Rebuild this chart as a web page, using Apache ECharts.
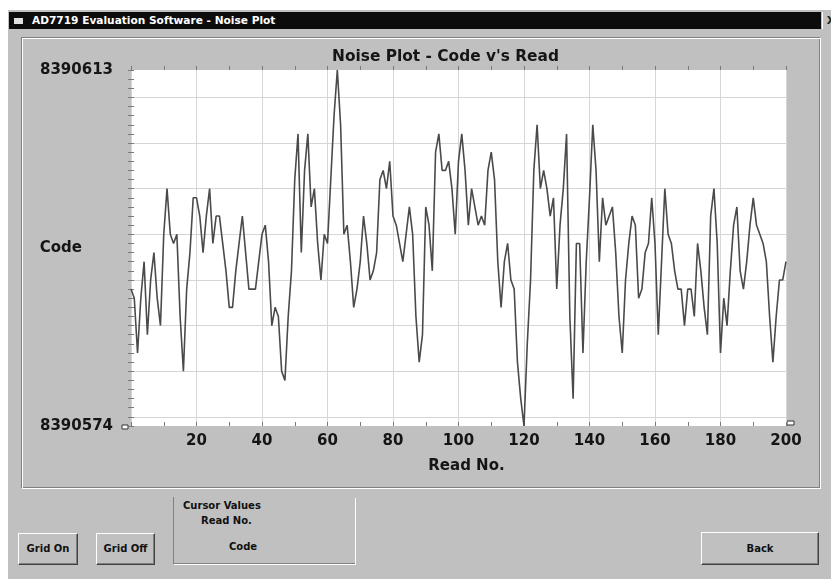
<!DOCTYPE html>
<html><head><meta charset="utf-8">
<script src="https://cdn.jsdelivr.net/npm/echarts@6/dist/echarts.min.js"></script>
<style>
html,body{margin:0;padding:0;width:831px;height:579px;overflow:hidden;background:#fff;font-family:"DejaVu Sans",sans-serif;}
#win{position:absolute;left:8px;top:10px;width:823px;height:569px;background:#c0c0c0;}
#titlebar{position:absolute;left:9px;top:12px;width:812px;height:17px;background:#0c0c0c;color:#fff;font-weight:bold;font-size:10.6px;line-height:17px;white-space:nowrap;}
#titlebar span{position:absolute;left:23px;top:0;}
#icon{position:absolute;left:5px;top:6px;width:9px;height:6px;background:#e0e0e0;}
#close{position:absolute;left:822px;top:12px;width:9px;height:17px;background:#c0c0c0;border-left:1px solid #fff;overflow:hidden;font-weight:bold;font-size:11px;line-height:17px;color:#222;}
#frame{position:absolute;left:21px;top:37px;width:798px;height:450px;border:1px solid;border-color:#808080 #fff #fff #808080;box-shadow:inset 1px 1px 0 #fff, inset -1px -1px 0 #808080;}
.btn{position:absolute;box-sizing:border-box;background:#c0c0c0;border:1px solid;border-color:#fff #404040 #404040 #fff;box-shadow:inset -1px -1px 0 #808080;font-weight:bold;font-size:10px;color:#111;text-align:center;}
#group{position:absolute;left:173px;top:497px;width:181px;height:66px;border-left:1px solid #808080;border-bottom:1px solid #808080;box-shadow:1px 1px 0 #fff;}
.lbl{position:absolute;font-weight:bold;font-size:10px;color:#111;white-space:nowrap;}
#chart{position:absolute;left:0;top:0;width:831px;height:579px;z-index:2;}
</style></head>
<body>
<div id="win"></div>
<div id="titlebar"><div id="icon"></div><span>AD7719 Evaluation Software - Noise Plot</span></div>
<div id="close">&nbsp;X</div>
<div id="frame"></div>
<div class="btn" style="left:18px;top:533px;width:60px;height:32px;line-height:30px;">Grid On</div>
<div class="btn" style="left:96px;top:533px;width:59px;height:32px;line-height:30px;">Grid Off</div>
<div class="btn" style="left:701px;top:532px;width:118px;height:33px;line-height:31px;">Back</div>
<div id="group"></div>
<div class="lbl" style="left:183px;top:500px;">Cursor Values</div>
<div class="lbl" style="left:201px;top:515px;">Read No.</div>
<div class="lbl" style="left:229px;top:541px;">Code</div>
<div id="chart"></div>
<script>
// ---- data ----
const chartTitle = "Noise Plot - Code v's Read";
const xAxisName = "Read No.";
const yAxisName = "Code";
const readNos = Array.from({length: 201}, (_, i) => i);
const codes = [
8390589,8390588,8390582,8390588,8390592,8390584,8390590,8390593,8390588,8390585,
8390595,8390600,8390595,8390594,8390595,8390586,8390580,8390589,8390593,8390599,
8390599,8390597,8390593,8390597,8390600,8390594,8390597,8390597,8390594,8390591,
8390587,8390587,8390591,8390594,8390597,8390593,8390589,8390589,8390589,8390592,
8390595,8390596,8390592,8390585,8390587,8390586,8390580,8390579,8390586,8390591,
8390601,8390606,8390593,8390602,8390606,8390598,8390600,8390594,8390590,8390595,
8390594,8390601,8390608,8390613,8390607,8390595,8390596,8390592,8390587,8390589,
8390592,8390597,8390594,8390590,8390591,8390593,8390601,8390602,8390600,8390603,
8390597,8390596,8390594,8390592,8390595,8390598,8390595,8390586,8390581,8390584,
8390598,8390596,8390591,8390604,8390606,8390602,8390602,8390603,8390600,8390595,
8390603,8390606,8390602,8390596,8390600,8390598,8390596,8390597,8390596,8390602,
8390604,8390601,8390592,8390587,8390592,8390594,8390590,8390589,8390581,8390577,
8390574,8390583,8390590,8390602,8390607,8390600,8390602,8390600,8390597,8390599,
8390589,8390596,8390600,8390606,8390586,8390577,8390594,8390594,8390582,8390592,
8390599,8390607,8390602,8390592,8390599,8390596,8390597,8390598,8390593,8390586,
8390582,8390590,8390594,8390597,8390596,8390588,8390589,8390593,8390594,8390599,
8390594,8390584,8390592,8390600,8390595,8390594,8390591,8390589,8390589,8390585,
8390589,8390589,8390586,8390594,8390591,8390587,8390584,8390597,8390600,8390594,
8390582,8390588,8390585,8390591,8390596,8390598,8390591,8390589,8390592,8390596,
8390599,8390596,8390595,8390594,8390592,8390586,8390581,8390586,8390590,8390590,
8390592
];
const xTickLabels = [20, 40, 60, 80, 100, 120, 140, 160, 180, 200];
const yTickLabels = [8390574, 8390613];
const gridCodes = [8390575, 8390580, 8390585, 8390590, 8390595, 8390600, 8390605, 8390610];
const xMin = 0, xMax = 200, yMin = 8390574, yMax = 8390613;

// ---- chart ----
const font = 'DejaVu Sans';
const txt = {fontFamily: font, fontWeight: 'bold', fontSize: 15, color: '#151515'};
const tickStyle = {color: '#7a7a7a', width: 1};
const chart = echarts.init(document.getElementById('chart'));
chart.setOption({
  backgroundColor: 'transparent',
  animation: false,
  title: {text: chartTitle, left: 332, top: 49, padding: 0, textStyle: Object.assign({}, txt, {fontSize: 15.4})},
  grid: {left: 131, top: 70, width: 655, height: 356, show: true, backgroundColor: '#ffffff', borderWidth: 0,
         containLabel: false, outerBoundsMode: 'none'},
  xAxis: [
    {type: 'value', min: xMin, max: xMax, interval: 20, position: 'bottom',
     name: xAxisName, nameLocation: 'middle', nameGap: 33, nameMoveOverlap: false,
     nameTextStyle: Object.assign({padding: [0, 0, 0, 16]}, txt),
     axisLine: {show: false},
     axisTick: {show: true, inside: true, length: 4, lineStyle: tickStyle},
     minorTick: {show: true, splitNumber: 2, length: 4, lineStyle: tickStyle},
     axisLabel: Object.assign({margin: 8, formatter: v => xTickLabels.includes(v) ? String(v) : ''}, txt),
     splitLine: {show: true, lineStyle: {color: '#d6d6d6', width: 1}}},
    {type: 'value', min: xMin, max: xMax, interval: 10, position: 'top',
     axisLine: {show: false}, axisTick: {show: true, length: 4, lineStyle: tickStyle},
     axisLabel: {show: false}, splitLine: {show: false}}
  ],
  yAxis: [
    {type: 'value', min: yMin, max: yMax, interval: 1, position: 'left',
     name: yAxisName, nameLocation: 'middle', nameRotate: 0, nameGap: 49, nameMoveOverlap: false,
     nameTextStyle: Object.assign({}, txt),
     axisLine: {show: false}, axisTick: {show: true, length: 3, lineStyle: tickStyle},
     axisLabel: Object.assign({margin: 18, formatter: v => yTickLabels.includes(v) ? String(v) : ''}, txt),
     splitLine: {show: false}},
    {type: 'value', min: yMin, max: yMax, interval: 1, position: 'right',
     axisLine: {show: false}, axisTick: {show: true, length: 3, lineStyle: tickStyle},
     axisLabel: {show: false}, splitLine: {show: false}},
    {type: 'value', min: yMin, max: yMax, position: 'left',
     axisLine: {show: false}, axisTick: {show: false, customValues: gridCodes},
     axisLabel: {show: false, customValues: gridCodes},
     splitLine: {show: true, lineStyle: {color: '#d6d6d6', width: 1}}}
  ],
  graphic: [
    {type: 'rect', shape: {x: 122, y: 425, width: 6, height: 4}, style: {fill: '#fff', stroke: '#333', lineWidth: 1}},
    {type: 'rect', shape: {x: 787, y: 421, width: 7, height: 4}, style: {fill: '#fff', stroke: '#333', lineWidth: 1}}
  ],
  series: [{
    type: 'line', xAxisIndex: 0, yAxisIndex: 0, z: 5,
    data: readNos.map((r, i) => [r, codes[i]]),
    showSymbol: false, symbol: 'none',
    lineStyle: {color: '#4a4a4a', width: 1.6}
  }]
});
</script>
</body></html>
